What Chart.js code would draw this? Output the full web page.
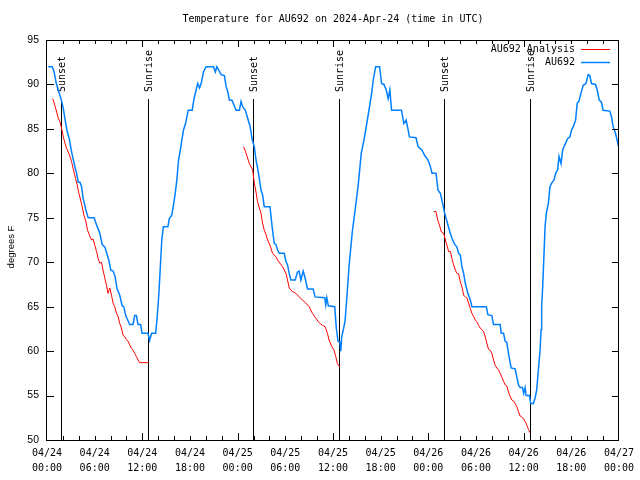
<!DOCTYPE html>
<html>
<head>
<meta charset="utf-8">
<script src="https://cdn.jsdelivr.net/npm/chart.js@4.4.1/dist/chart.umd.min.js"></script>
<style>html,body{margin:0;padding:0;background:#fff;}canvas{display:block;}</style>
</head>
<body>
<canvas id="c" width="640" height="480"></canvas>
<script>
// hours since 2024-04-24 00:00 UTC
const xTickDates = ['04/24','04/24','04/24','04/24','04/25','04/25','04/25','04/25','04/26','04/26','04/26','04/26','04/27'];
const xTickTimes = ['00:00','06:00','12:00','18:00','00:00','06:00','12:00','18:00','00:00','06:00','12:00','18:00','00:00'];
const yTicks = [50,55,60,65,70,75,80,85,90,95];

const eventHours = [1.79, 12.71, 25.88, 36.76, 49.98, 60.77];
const eventLabels = ['Sunset','Sunrise','Sunset','Sunrise','Sunset','Sunrise'];

const seriesNames = ['AU692 Analysis','AU692'];

const obsHours = [0.16,0.66,0.9,1.17,1.54,1.79,2.05,2.30,2.55,2.80,3.05,3.30,3.55,3.73,3.93,4.15,4.35,4.55,4.86,5.18,5.93,6.24,6.65,6.94,7.28,7.49,7.78,8.03,8.32,8.57,8.82,9.16,9.45,9.66,9.91,10.41,10.83,11.04,11.25,11.46,11.79,11.96,12.71,12.92,13.17,13.68,13.84,14.05,14.27,14.45,14.65,15.22,15.40,15.71,15.95,16.15,16.35,16.56,16.78,16.98,17.19,17.44,17.78,18.28,18.48,18.78,18.98,19.20,19.41,19.70,20.04,20.95,21.20,21.37,21.62,21.92,22.33,22.55,22.75,22.96,23.30,23.80,24.22,24.43,24.63,24.97,25.26,25.56,25.85,26.10,26.31,26.51,26.73,26.94,27.14,27.35,28.07,28.27,28.39,28.61,28.82,29.02,29.23,29.86,30.08,30.28,30.49,30.70,31.24,31.53,31.74,31.96,32.25,32.50,32.79,33.50,33.75,34.97,35.09,35.22,35.42,36.22,36.42,36.64,36.89,36.98,37.10,37.30,37.52,37.73,38.02,38.43,38.86,39.18,39.56,39.90,40.19,40.53,40.87,41.07,41.37,41.87,42.12,42.41,42.70,42.95,43.16,43.38,44.63,44.92,45.21,45.46,45.63,46.46,46.71,47.21,47.55,47.97,48.27,48.47,48.97,49.22,49.52,49.81,50.06,50.35,50.65,50.98,51.32,51.61,51.82,52.03,52.23,52.45,52.66,52.98,53.29,53.49,55.30,55.50,56.00,56.21,57.05,57.18,57.47,57.68,57.88,58.09,58.43,58.93,59.14,59.35,59.56,59.85,60.01,60.19,60.31,60.73,60.89,61.23,61.44,61.64,61.86,62.07,62.20,62.27,62.40,62.52,62.70,62.86,63.11,63.32,63.53,63.83,64.03,64.28,64.46,64.71,64.91,65.08,65.28,65.53,65.83,66.04,66.25,66.54,66.75,66.96,67.21,67.50,67.84,68.13,68.34,68.54,69.04,69.26,69.51,69.80,70.01,70.85,71.05,71.27,71.56,71.77,71.95];
const obsTemps = [92,92,91.4,90.1,89,88.3,87.3,85.9,84.7,83.9,82.6,81.6,80.6,80,79,79,78.5,77.2,76,75,75,74.2,73.25,72,71.7,71.1,70.25,69.1,69,68.4,67,66.3,65.1,65,64,63,63,64,64,63,63,62,62,61.2,62,62,63.5,66,69.5,72.5,74,74,74.9,75.3,76.6,77.8,79.3,81.5,82.6,83.75,84.9,85.6,87.1,87.1,88.25,89.4,90.1,89.6,90.1,91.4,92,92,91.4,92,91.6,91.1,91,89.75,89.2,88.25,88.2,87.1,87.1,88.1,87.5,87.1,86.2,85.3,83.7,83,81.5,80.6,79.4,78.1,77.6,76.25,76.25,74.6,73.6,72.1,72,71.4,71,71,70.1,69.7,68.75,68,68,68.9,69,68,69,68.2,67,67,66.1,66,65.2,66,65.1,65,62.6,61.1,61,60,61.6,62.4,63.4,65.8,69.5,73.4,76.4,78.7,82.25,83.75,85.25,87.1,89,90.5,92,92,90.1,90,89.4,88.4,89.4,87.1,87.1,85.6,86,84.9,84.1,84,83,82.6,82,81.5,80.75,80,80,78.1,77.75,76.6,75.5,74.6,73.6,72.7,72,71.7,71,70.8,69.5,68.75,67.6,66.5,65.75,65,65,64.1,64,63,63,62,62,61.1,61,59.75,58.1,58,57.1,56.2,55.9,55.9,55.25,55.9,55,55,54.1,54.1,54.7,55.6,57.9,60.1,62.4,65,67.25,69.9,74,75.5,76.6,78.5,78.9,79.25,80,80.4,81.9,81.1,82.6,83,83.4,83.9,84.1,84.9,85.25,86,87.9,88.1,89,89.9,90.1,91.1,91,90.1,90,89.4,88.25,88,87.1,87,86.4,85.25,84.5,83.75,83];

// null entries separate the three analysis segments
const anaHours = [0.72,0.97,1.22,1.42,1.63,1.84,2.05,2.26,2.47,2.67,2.89,3.10,3.30,3.60,3.80,4.02,4.23,4.43,4.64,4.89,5.11,5.31,5.61,5.81,6.02,6.24,6.44,6.65,6.86,7.06,7.28,7.49,7.69,7.90,8.12,8.32,8.53,8.75,8.95,9.16,9.37,9.57,9.79,10.00,10.20,10.41,10.63,10.83,11.04,11.25,11.46,11.67,12.84,
 18,
 24.76,25.06,25.47,25.88,26.10,26.31,26.51,26.73,26.94,27.14,27.35,27.57,27.77,27.98,28.19,28.39,28.82,29.02,29.32,29.65,30.08,30.28,30.49,30.90,31.33,31.74,32.16,32.58,33.00,33.41,33.84,34.25,34.67,35.01,35.30,35.51,35.85,36.14,36.35,36.55,36.76,36.89,
 42,
 48.68,48.97,49.18,49.40,49.65,49.94,50.15,50.35,50.56,50.78,50.98,51.19,51.41,51.61,51.82,52.03,52.23,52.45,52.66,52.86,53.07,53.29,53.49,53.70,53.91,54.12,54.33,54.54,54.74,54.96,55.17,55.37,55.58,55.80,56.00,56.21,56.42,56.62,56.84,57.05,57.25,57.47,57.68,57.88,58.09,58.31,58.51,58.72,58.93,59.14,59.35,59.56,59.76,59.97,60.19,60.39,60.60,60.81];
const anaTemps = [88.4,87.7,86.9,86.2,85.8,85.05,84.1,83.4,82.8,82.4,81.9,81.3,80.5,79.4,78.7,77.75,77,76.25,75.3,74.6,73.6,73.1,72.5,72.6,71.9,71.2,70.4,69.9,70,69.1,68.2,67.4,66.5,67.1,66.3,65.4,65,64.25,63.9,63.1,62.6,61.8,61.6,61.3,61.1,60.7,60.3,60.1,59.75,59.4,59,58.7,58.7,
 null,
 83,82.25,81.1,80.4,78.9,77.9,76.8,76.1,75.5,74.4,73.6,73.1,72.5,72.1,71.6,71,70.6,70.25,69.9,69.5,68.75,68,67.1,66.7,66.5,66.1,65.75,65.4,65,64.25,63.7,63.2,62.9,62.75,62,61.25,60.5,60.1,59.4,58.6,58.3,58.3,
 null,
 75.7,75.7,74.75,74.2,73.4,73.25,72.5,71.9,71.2,71.2,70.4,69.7,69.1,68.75,68.7,67.8,67.25,66.3,66.1,66,65.4,64.8,64.25,63.9,63.5,63.3,62.9,62.6,62.4,62.2,61.6,60.9,60.2,60.1,59.75,59,58.4,58.1,57.9,57.5,57.1,56.6,56.2,56.1,55.4,54.9,54.5,54.4,54.1,53.75,53.2,52.7,52.6,52.4,52.1,51.7,51.2,50.8];

const RED = '#ff0000', BLUE = '#0080ff';
const MONO = '"DejaVu Sans Mono", "Liberation Mono", monospace';
const SANS = '"Liberation Sans", Arial, sans-serif';

const toPts = (hs, ts) => hs.map((h, i) => ({x: h, y: ts[i]}));

const gnuplotLook = {
  id: 'gnuplotLook',
  beforeDatasetsDraw(chart) {
    const {ctx, chartArea: a, scales: {x}} = chart;
    ctx.save();
    ctx.strokeStyle = '#000';
    ctx.lineWidth = 1;
    ctx.fillStyle = '#000';
    ctx.font = '10px ' + MONO;
    eventHours.forEach((h, i) => {
      const px = Math.round(x.getPixelForValue(h)) + 0.5;
      ctx.beginPath();
      ctx.moveTo(px, a.top + 59);
      ctx.lineTo(px, a.bottom);
      ctx.stroke();
      ctx.save();
      ctx.translate(px + 1, a.top + 52);
      ctx.rotate(-Math.PI / 2);
      ctx.textAlign = 'left';
      ctx.textBaseline = 'middle';
      ctx.fillText(eventLabels[i], 0, 0);
      ctx.restore();
    });
    ctx.restore();
  },
  afterDatasetsDraw(chart) {
    const {ctx, chartArea: a, scales: {x, y}} = chart;
    ctx.save();
    ctx.strokeStyle = '#000';
    ctx.lineWidth = 1;
    // border
    ctx.strokeRect(Math.round(a.left) - 0.5, Math.round(a.top) + 0.5, Math.round(a.right - a.left), Math.round(a.bottom - a.top));
    // x ticks every 2 hours, inside, top and bottom
    ctx.beginPath();
    for (let h = 2; h < 72; h += 2) {
      const px = Math.round(x.getPixelForValue(h)) + 0.5;
      const len = (h % 12 === 0) ? 7 : 4;
      ctx.moveTo(px, a.bottom); ctx.lineTo(px, a.bottom - len);
      ctx.moveTo(px, a.top); ctx.lineTo(px, a.top + len);
    }
    // y ticks, inside, left and right
    yTicks.forEach(v => {
      const py = Math.round(y.getPixelForValue(v)) + 0.5;
      ctx.moveTo(a.left, py); ctx.lineTo(a.left + 7, py);
      ctx.moveTo(a.right, py); ctx.lineTo(a.right - 7, py);
    });
    ctx.stroke();

    // title
    ctx.fillStyle = '#000';
    ctx.font = '10px ' + MONO;
    ctx.textAlign = 'center';
    ctx.textBaseline = 'middle';
    ctx.fillText('Temperature for AU692 on 2024-Apr-24 (time in UTC)', (a.left + a.right) / 2, 19);

    // legend
    ctx.textAlign = 'right';
    const rows = [[seriesNames[0], RED, 1], [seriesNames[1], BLUE, 1.5]];
    rows.forEach((r, i) => {
      const ly = 49.5 + i * 13;
      ctx.fillStyle = '#000';
      ctx.fillText(r[0], 575, ly);
      ctx.strokeStyle = r[1];
      ctx.lineWidth = r[2];
      ctx.beginPath();
      ctx.moveTo(581, ly); ctx.lineTo(610, ly);
      ctx.stroke();
    });

    // y axis title
    ctx.fillStyle = '#000';
    ctx.font = '9.5px ' + SANS;
    ctx.save();
    ctx.translate(11, 247);
    ctx.rotate(-Math.PI / 2);
    ctx.textAlign = 'center';
    ctx.textBaseline = 'middle';
    ctx.fillText('degrees F', 0, 0);
    ctx.restore();
    ctx.restore();
  }
};

new Chart(document.getElementById('c'), {
  type: 'line',
  data: {
    datasets: [
      {label: seriesNames[1], data: toPts(obsHours, obsTemps), borderColor: BLUE, borderWidth: 1.5, pointRadius: 0, tension: 0, fill: false},
      {label: seriesNames[0], data: toPts(anaHours, anaTemps), borderColor: RED, borderWidth: 1, pointRadius: 0, tension: 0, fill: false, spanGaps: false}
    ]
  },
  options: {
    responsive: false,
    animation: false,
    devicePixelRatio: 1,
    layout: {padding: {top: 40, right: 19, bottom: 0, left: 0}},
    plugins: {legend: {display: false}, tooltip: {enabled: false}, title: {display: false}},
    scales: {
      x: {
        type: 'linear', min: 0, max: 72,
        afterFit(s) { s.height = 40; },
        grid: {display: false, drawTicks: false},
        border: {display: false},
        ticks: {
          stepSize: 6, autoSkip: false, maxRotation: 0, padding: 6, color: '#000',
          font: {family: MONO, size: 10, lineHeight: 1.5},
          callback(v) { const i = Math.round(v / 6); return [xTickDates[i], xTickTimes[i]]; }
        }
      },
      y: {
        type: 'linear', min: 50, max: 95,
        afterFit(s) { s.width = 47; },
        grid: {display: false, drawTicks: false},
        border: {display: false},
        ticks: {stepSize: 5, padding: 8, color: '#000', font: {family: SANS, size: 10.5}}
      }
    }
  },
  plugins: [gnuplotLook]
});
</script>
</body>
</html>
